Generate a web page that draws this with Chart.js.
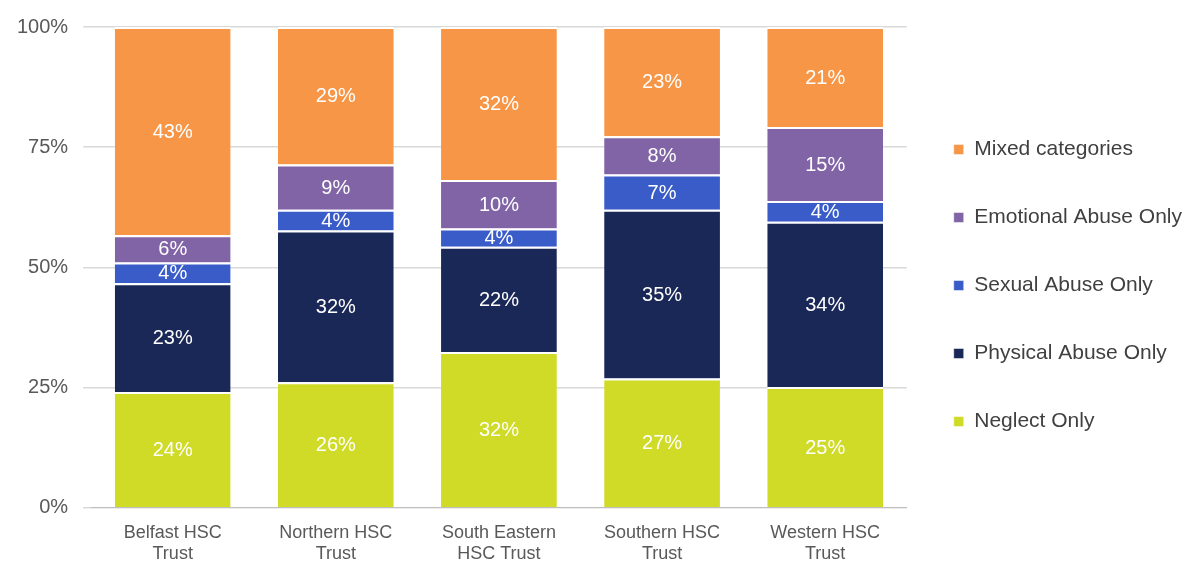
<!DOCTYPE html>
<html>
<head>
<meta charset="utf-8">
<script src="https://cdn.jsdelivr.net/npm/chart.js@4"></script>
<style>
  html, body { margin: 0; padding: 0; background: #fff; }
  #wrap { width: 1196px; height: 571px; }
</style>
</head>
<body>
<div id="wrap"><canvas id="chart"></canvas></div>
<script>
// trusts along the x axis
const trusts = [['Belfast HSC', 'Trust'], ['Northern HSC', 'Trust'], ['South Eastern', 'HSC Trust'], ['Southern HSC', 'Trust'], ['Western HSC', 'Trust']];

// share of each category, percent
const neglect = [24.1, 26.1, 32.4, 26.9, 25.1];
const physical = [22.6, 31.6, 21.9, 35.1, 34.4];
const sexual = [4.3, 4.3, 3.8, 7.3, 4.3];
const emotional = [5.7, 9.4, 10.1, 8.0, 15.4];
const mixed = [43.3, 28.6, 31.8, 22.7, 20.8];

const yTicks = [0, 25, 50, 75, 100];

const font = 'Liberation Sans, Arial, sans-serif';

// draws the rounded percentage in the middle of each segment
const segmentLabels = {
    id: 'segmentLabels',
    afterDatasetsDraw: (chart) => {
        const { ctx } = chart;
        ctx.save();
        ctx.fillStyle = '#ffffff';
        ctx.font = '20px ' + font;
        ctx.textAlign = 'center';
        ctx.textBaseline = 'middle';
        chart.data.datasets.forEach((ds, i) => {
            chart.getDatasetMeta(i).data.forEach((bar, j) => {
                const mid = (bar.y + bar.base) / 2;
                ctx.fillText(Math.round(ds.data[j]) + '%', bar.x, mid + 1);
            });
        });
        ctx.restore();
    }
};

const makeSet = (label, data, color) => ({
    label: label,
    data: data,
    backgroundColor: color,
    borderColor: '#ffffff',
    borderWidth: { top: 2, bottom: 0, left: 0, right: 0 },
    borderSkipped: false,
    barPercentage: 0.71,
    categoryPercentage: 1.0
});

new Chart(document.getElementById('chart').getContext('2d'), {
    type: 'bar',
    data: {
        labels: trusts,
        datasets: [
            makeSet('Neglect Only', neglect, '#cfdb27'),
            makeSet('Physical Abuse Only', physical, '#1a2857'),
            makeSet('Sexual Abuse Only', sexual, '#3a5cc9'),
            makeSet('Emotional Abuse Only', emotional, '#8064a6'),
            makeSet('Mixed categories', mixed, '#f79646')
        ]
    },
    options: {
        responsive: true,
        maintainAspectRatio: false,
        animation: false,
        layout: { padding: { top: 0, right: 4, bottom: 0, left: 2 } },
        plugins: {
            tooltip: { enabled: false },
            legend: {
                position: 'right',
                reverse: true,
                labels: {
                    boxWidth: 10,
                    boxHeight: 10,
                    padding: 47,
                    color: '#404040',
                    font: { family: font, size: 21 }
                }
            }
        },
        scales: {
            x: {
                stacked: true,
                grid: { display: false },
                border: { color: '#bfbfbf' },
                ticks: { color: '#595959', font: { family: font, size: 18, lineHeight: 1.2 }, padding: 6 }
            },
            y: {
                stacked: true,
                min: 0,
                max: 100,
                afterBuildTicks: (axis) => { axis.ticks = yTicks.map(v => ({ value: v })); },
                grid: { color: '#d9d9d9', lineWidth: 1.5 },
                border: { display: false },
                ticks: {
                    color: '#595959',
                    font: { family: font, size: 20 },
                    padding: 15,
                    callback: (v) => v + '%'
                }
            }
        }
    },
    plugins: [segmentLabels]
});
</script>
</body>
</html>
